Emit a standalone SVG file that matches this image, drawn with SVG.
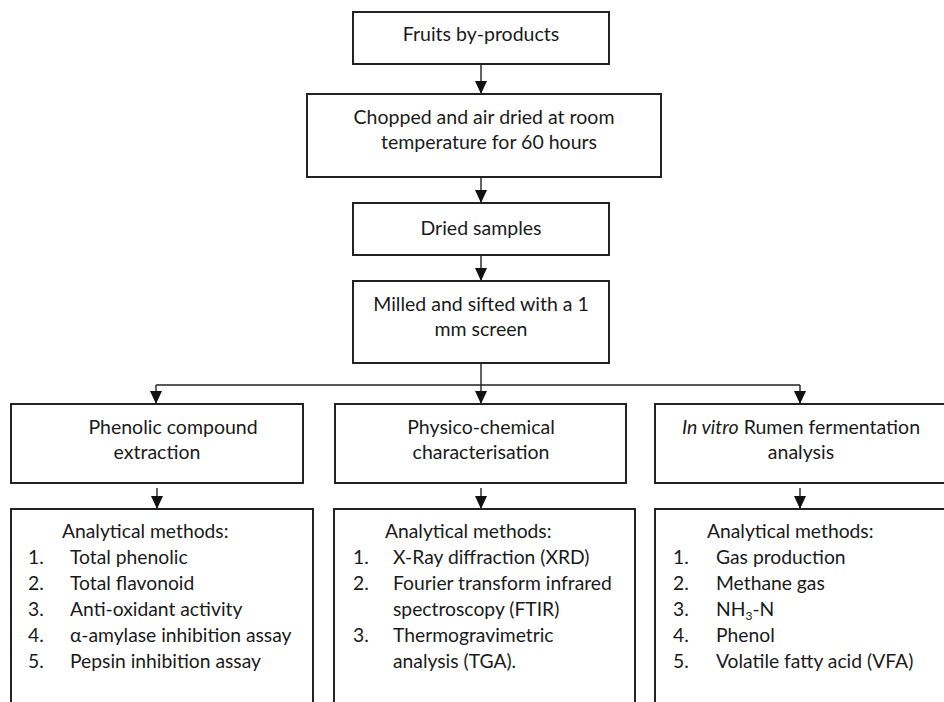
<svg xmlns="http://www.w3.org/2000/svg" width="944" height="702" viewBox="0 0 944 702">
<defs>
<marker id="ah" markerWidth="13" markerHeight="12" refX="13" refY="6" orient="auto" markerUnits="userSpaceOnUse" viewBox="0 0 13 12">
<path d="M0,0 L13,6 L0,12 Z" fill="#111"/>
</marker>
<style>
.box{fill:#fff;stroke:#222;stroke-width:2}
.ln{fill:none;stroke:#222;stroke-width:1.4}
.arr{fill:none;stroke:#222;stroke-width:1.4;marker-end:url(#ah)}
text{font-family:Lato,"Open Sans","Liberation Sans",sans-serif;fill:#1a1a1a}
.t{font-size:19.5px;text-anchor:middle}
.m{font-size:19.3px}
</style>
</defs>
<rect width="944" height="702" fill="#fff"/>
<g id="connectors">
<line class="arr" x1="481" y1="64" x2="481" y2="94"/>
<line class="arr" x1="481" y1="177" x2="481" y2="203"/>
<line class="arr" x1="481" y1="255" x2="481" y2="281"/>
<line class="ln" x1="481" y1="363" x2="481" y2="385"/>
<line class="ln" x1="156" y1="385" x2="800" y2="385"/>
<line class="arr" x1="156" y1="385" x2="156" y2="404"/>
<line class="arr" x1="481" y1="385" x2="481" y2="404"/>
<line class="arr" x1="800" y1="385" x2="800" y2="404"/>
<line class="arr" x1="157" y1="488" x2="157" y2="509"/>
<line class="arr" x1="481" y1="488" x2="481" y2="509"/>
<line class="arr" x1="800" y1="488" x2="800" y2="509"/>
</g>
<g id="fruits">
<rect class="box" x="353" y="12" width="256" height="52"/>
<text class="t" x="481" y="41">Fruits by-products</text>
</g>
<g id="chopped">
<rect class="box" x="307" y="94" width="354" height="83"/>
<text class="t" x="484" y="124">Chopped and air dried at room</text>
<text class="t" x="489" y="149">temperature for 60 hours</text>
</g>
<g id="dried">
<rect class="box" x="353" y="203" width="256" height="52"/>
<text class="t" x="481" y="235">Dried samples</text>
</g>
<g id="milled">
<rect class="box" x="353" y="281" width="256" height="82"/>
<text class="t" x="481" y="311">Milled and sifted with a 1</text>
<text class="t" x="481" y="336">mm screen</text>
</g>
<g id="phenolic">
<rect class="box" x="11" y="404" width="292" height="79"/>
<text class="t" x="173" y="434">Phenolic compound</text>
<text class="t" x="157" y="459">extraction</text>
</g>
<g id="physico">
<rect class="box" x="335" y="404" width="291" height="79"/>
<text class="t" x="481" y="434">Physico-chemical</text>
<text class="t" x="481" y="459">characterisation</text>
</g>
<g id="invitro">
<rect class="box" x="655" y="404" width="300" height="79"/>
<text class="t" x="801" y="434"><tspan font-style="italic">In vitro</tspan> Rumen fermentation</text>
<text class="t" x="801" y="459">analysis</text>
</g>
<g id="methods-phenolic">
<rect class="box" x="11" y="509" width="302" height="210"/>
<text class="m" x="62" y="538">Analytical methods:</text>
<text class="m" x="28" y="564">1.</text><text class="m" x="70" y="564">Total phenolic</text>
<text class="m" x="28" y="590">2.</text><text class="m" x="70" y="590">Total flavonoid</text>
<text class="m" x="28" y="616">3.</text><text class="m" x="70" y="616">Anti-oxidant activity</text>
<text class="m" x="28" y="642">4.</text><text class="m" x="70" y="642">α-amylase inhibition assay</text>
<text class="m" x="28" y="668">5.</text><text class="m" x="70" y="668">Pepsin inhibition assay</text>
</g>
<g id="methods-physico">
<rect class="box" x="334" y="509" width="301" height="210"/>
<text class="m" x="385" y="538">Analytical methods:</text>
<text class="m" x="353" y="564">1.</text><text class="m" x="393" y="564">X-Ray diffraction (XRD)</text>
<text class="m" x="353" y="590">2.</text><text class="m" x="393" y="590">Fourier transform infrared</text>
<text class="m" x="393" y="616">spectroscopy (FTIR)</text>
<text class="m" x="353" y="642">3.</text><text class="m" x="393" y="642">Thermogravimetric</text>
<text class="m" x="393" y="668">analysis (TGA).</text>
</g>
<g id="methods-rumen">
<rect class="box" x="655" y="509" width="300" height="210"/>
<text class="m" x="707" y="538">Analytical methods:</text>
<text class="m" x="673" y="564">1.</text><text class="m" x="716" y="564">Gas production</text>
<text class="m" x="673" y="590">2.</text><text class="m" x="716" y="590">Methane gas</text>
<text class="m" x="673" y="616">3.</text><text class="m" x="716" y="616">NH<tspan font-size="12px" dy="4">3</tspan><tspan dy="-4">-N</tspan></text>
<text class="m" x="673" y="642">4.</text><text class="m" x="716" y="642">Phenol</text>
<text class="m" x="673" y="668">5.</text><text class="m" x="716" y="668">Volatile fatty acid (VFA)</text>
</g>
</svg>
